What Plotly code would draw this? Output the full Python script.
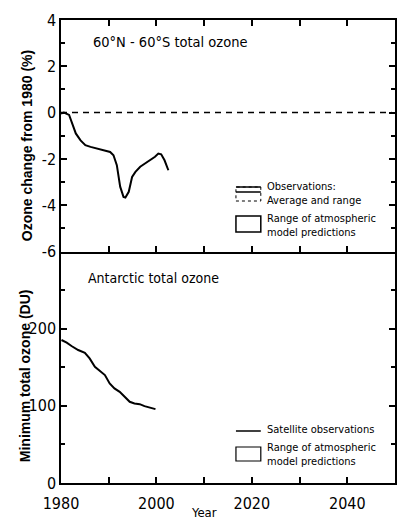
import plotly.graph_objects as go
from plotly.subplots import make_subplots

# Top panel: 60N-60S total ozone change from 1980 (%)
obs_years = [1980.0, 1980.6, 1981.7, 1982.4, 1983.1, 1984.1, 1985.1, 1986.2, 1987.2, 1988.2,
             1989.3, 1990.3, 1991.0, 1991.7, 1992.4, 1993.1, 1993.5, 1994.2, 1994.9, 1995.6,
             1996.6, 1997.6, 1998.7, 1999.7, 2000.4, 2001.0, 2001.7, 2002.5]
obs_change = [-0.04, 0.0, -0.1, -0.47, -0.9, -1.2, -1.41, -1.48, -1.53, -1.57,
              -1.64, -1.7, -1.84, -2.27, -3.2, -3.64, -3.67, -3.42, -2.78, -2.56,
              -2.34, -2.2, -2.06, -1.91, -1.77, -1.8, -2.06, -2.49]

# Bottom panel: Antarctic minimum total ozone (DU)
sat_years = [1980.1, 1981.2, 1982.2, 1983.6, 1985.0, 1986.0, 1987.1, 1988.1, 1989.2, 1990.2,
             1991.2, 1992.3, 1993.3, 1994.4, 1995.4, 1996.5, 1997.5, 1998.5, 1999.8]
sat_min = [185.3, 181.8, 177.5, 172.3, 168.8, 161.5, 150.6, 145.5, 139.9, 129.0,
           122.6, 118.2, 112.6, 105.2, 103.1, 102.2, 99.6, 97.9, 95.7]

x_ticks = [1980, 2000, 2020, 2040]
top_ticks = [-6, -4, -2, 0, 2, 4]
bot_ticks = [0, 100, 200]

NARROW = "Liberation Sans Narrow, Arial Narrow, DejaVu Sans Condensed, sans-serif"
BOLD = "Liberation Sans, Arial, sans-serif"

fig = make_subplots(rows=2, cols=1, shared_xaxes=True, vertical_spacing=0,
                    row_heights=[0.5, 0.5])

fig.add_trace(go.Scatter(x=obs_years, y=obs_change, mode="lines",
                         line=dict(color="black", width=2),
                         showlegend=False), row=1, col=1)
fig.add_trace(go.Scatter(x=sat_years, y=sat_min, mode="lines",
                         line=dict(color="black", width=2),
                         showlegend=False), row=2, col=1)

axis_common = dict(showline=True, linecolor="black", linewidth=1.5,
                   ticks="inside", tickcolor="black", ticklen=6, tickwidth=1.5,
                   showgrid=False, zeroline=False,
                   tickfont=dict(family=NARROW, size=16, color="black"))

fig.update_xaxes(range=[1980, 2050], tickvals=x_ticks, ticktext=[str(v) for v in x_ticks],
                 minor=dict(dtick=10, tick0=1980, ticks="inside", ticklen=6, tickcolor="black"),
                 **axis_common)
fig.update_xaxes(showticklabels=False, mirror="ticks", row=1, col=1)
fig.update_xaxes(showticklabels=True, mirror=False, ticklabelstandoff=5, row=2, col=1)

fig.update_yaxes(range=[-6, 4], tickvals=top_ticks, mirror="ticks",
                 ticktext=[str(v) for v in top_ticks],
                 minor=dict(dtick=1, tick0=0, ticks="inside", ticklen=4, tickcolor="black"),
                 row=1, col=1, **axis_common)
fig.update_yaxes(range=[0, 300], tickvals=bot_ticks, mirror="ticks",
                 ticktext=[str(v) for v in bot_ticks],
                 minor=dict(dtick=50, tick0=0, ticks="inside", ticklen=4, tickcolor="black"),
                 row=2, col=1, **axis_common)

# zero reference line
fig.add_shape(type="line", xref="x domain", yref="y", x0=0, x1=0.99, y0=0, y1=0,
              line=dict(color="black", width=1.5, dash="6px,5px"))

L, R, T, B = 61, 0, 20, 37
W, H = 397, 520
pw, ph = W - L - R, H - T - B


def px(x):
    return (x - L) / pw


def py(y):
    return (H - B - y) / ph


annos = [
    dict(text="60°N - 60°S total ozone", x=px(91), y=py(42),
         xanchor="left", yanchor="middle", font=dict(family=NARROW, size=14.5)),
    dict(text="Antarctic total ozone", x=px(86), y=py(278),
         xanchor="left", yanchor="middle", font=dict(family=NARROW, size=14)),
    dict(text="Ozone change from 1980 (%)", x=px(27), y=py(146), textangle=-90,
         xanchor="center", yanchor="middle", font=dict(family=BOLD, size=14, weight="bold")),
    dict(text="Minimum total ozone (DU)", x=px(25), y=py(376), textangle=-90,
         xanchor="center", yanchor="middle", font=dict(family=BOLD, size=14, weight="bold")),
    dict(text="Year", x=px(205), y=py(512), xanchor="center", yanchor="middle",
         font=dict(family=NARROW, size=13)),
    dict(text="Observations:<br>Average and range", x=px(266), y=py(193),
         xanchor="left", yanchor="middle", align="left", font=dict(family=NARROW, size=11)),
    dict(text="Range of atmospheric<br>model predictions", x=px(266), y=py(225),
         xanchor="left", yanchor="middle", align="left", font=dict(family=NARROW, size=11)),
    dict(text="Satellite observations", x=px(266), y=py(429),
         xanchor="left", yanchor="middle", align="left", font=dict(family=NARROW, size=11)),
    dict(text="Range of atmospheric<br>model predictions", x=px(266), y=py(454),
         xanchor="left", yanchor="middle", align="left", font=dict(family=NARROW, size=11)),
]
for a in annos:
    a.update(xref="paper", yref="paper", showarrow=False)
    a["font"]["color"] = "black"
fig.update_layout(annotations=annos)

# legend symbols
lx0, lx1 = px(237), px(262)
fig.add_shape(type="rect", xref="paper", yref="paper", x0=lx0, x1=lx1, y0=py(201), y1=py(187),
              line=dict(color="black", width=1, dash="dot"))
fig.add_shape(type="line", xref="paper", yref="paper", x0=lx0, x1=lx1, y0=py(187), y1=py(187),
              line=dict(color="black", width=1.5))
fig.add_shape(type="line", xref="paper", yref="paper", x0=lx0, x1=lx1, y0=py(192), y1=py(192),
              line=dict(color="black", width=1.5))
fig.add_shape(type="rect", xref="paper", yref="paper", x0=lx0, x1=lx1, y0=py(232), y1=py(216),
              line=dict(color="black", width=1.5))
fig.add_shape(type="line", xref="paper", yref="paper", x0=lx0, x1=lx1, y0=py(431), y1=py(431),
              line=dict(color="black", width=1.5))
fig.add_shape(type="rect", xref="paper", yref="paper", x0=lx0, x1=lx1, y0=py(461), y1=py(447),
              line=dict(color="black", width=1.2))

fig.update_layout(width=W, height=H, margin=dict(l=L, r=R, t=T, b=B),
                  paper_bgcolor="white", plot_bgcolor="white", showlegend=False,
                  font=dict(family=NARROW, color="black"))

fig.write_html("out.html", config={"displayModeBar": False},
               post_script="document.body.style.margin='0px';")
